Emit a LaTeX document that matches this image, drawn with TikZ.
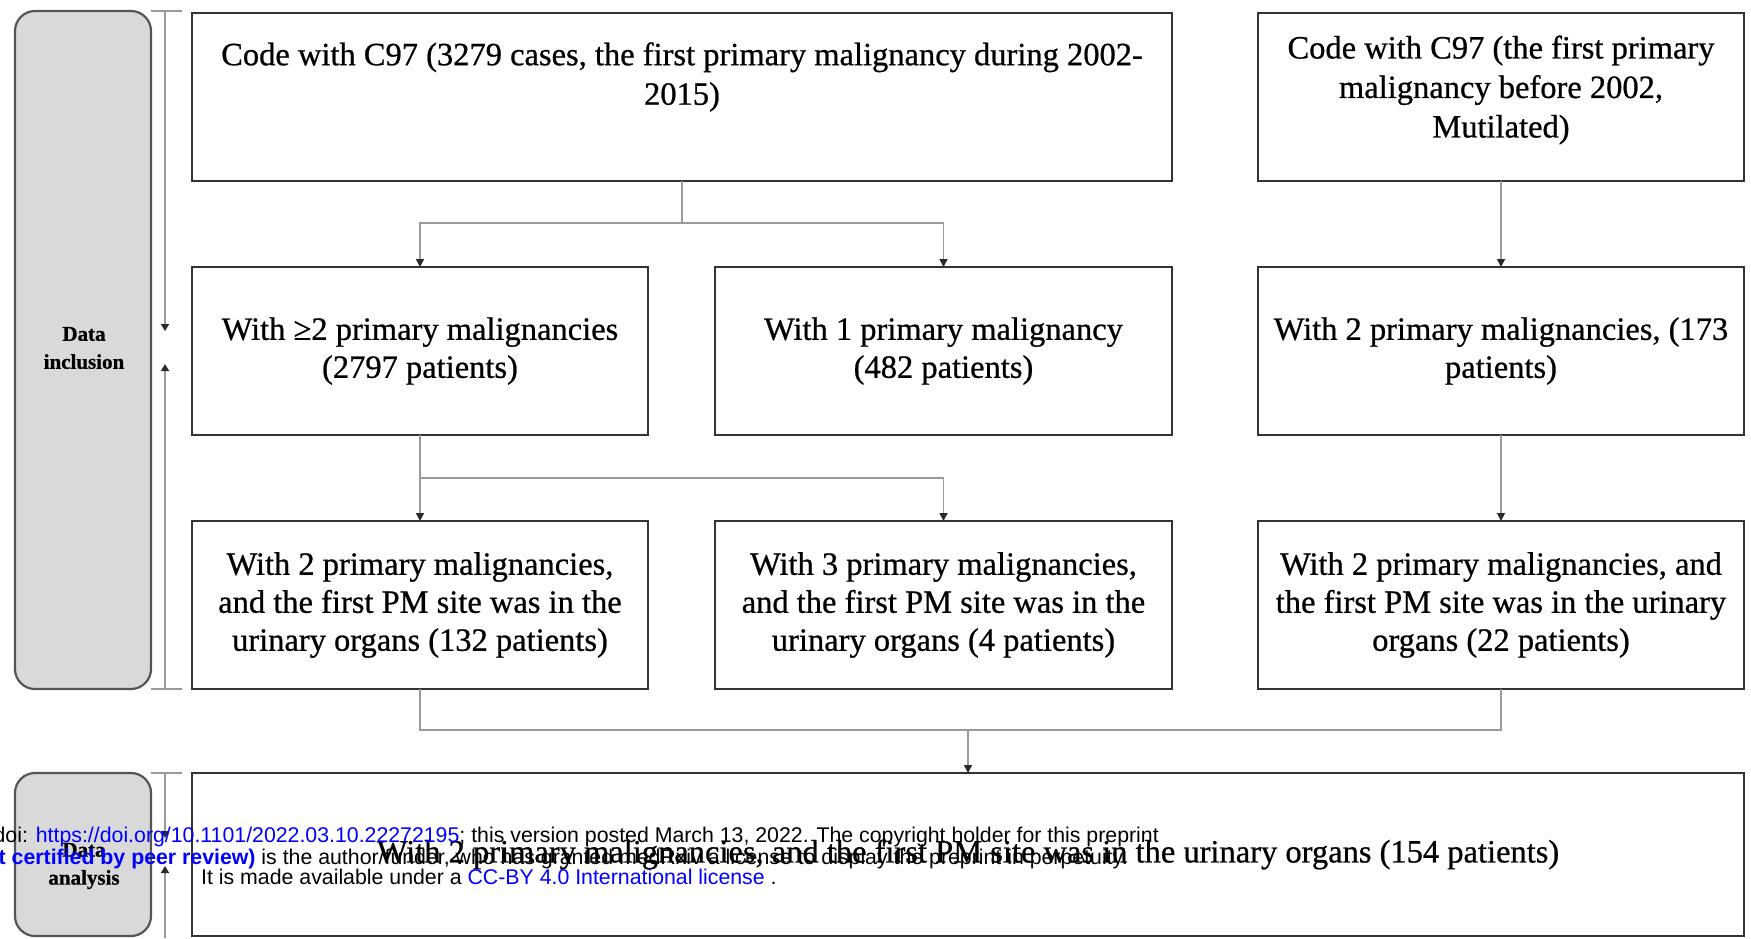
\documentclass[tikz,border=0pt]{standalone}
\usepackage{fontspec}
\setmainfont[FakeBold=0.7]{Liberation Serif}
\newfontfamily\wmfont{Liberation Sans}
\usetikzlibrary{arrows.meta}
\definecolor{boxline}{HTML}{333333}
\definecolor{conn}{HTML}{9A9A9A}
\definecolor{sidefill}{HTML}{D9D9D9}
\definecolor{sideline}{HTML}{555555}
\definecolor{wmblue}{HTML}{0000FF}
\definecolor{tipc}{HTML}{2A2A2A}
\begin{document}
\begin{tikzpicture}[x=1pt,y=-1pt,
  flowbox/.style={draw=boxline, line width=2.5pt, fill=white, anchor=north west,
    inner sep=0pt, outer sep=0pt, minimum height=168pt, align=center,
    font=\fontsize{32.5}{38}\selectfont},
  sidebox/.style={draw=sideline, line width=2.2pt, fill=sidefill, rounded corners=20pt,
    anchor=north west, inner sep=0pt, outer sep=0pt, minimum width=136pt},
  sidetext/.style={align=center, inner sep=0pt, font=\fontsize{21}{28}\selectfont\bfseries},
  boxtext/.style={align=center, inner sep=0pt, font=\fontsize{32.5}{39.5}\selectfont},
  link/.style={draw=conn, line width=1.6pt},
  linkarr/.style={link, -{Triangle[length=8pt,width=8pt,color=tipc]}},
  brk/.style={draw=conn, line width=1.8pt},
  brkarr/.style={brk, -{Triangle[length=7pt,width=8pt,color=tipc]}},
  wm/.style={inner sep=0pt, font=\wmfont\fontsize{21.3}{21.3}\selectfont}
]
\useasboundingbox (0,0) rectangle (1751,938);

% side panels
\node[sidebox, minimum height=678pt] (side1) at (15,11) {};
\node[sidetext] (side1t) at (84,348) {Data\\inclusion};
\node[sidebox, minimum height=163pt] (side2) at (15,773) {};
\node[sidetext] (side2t) at (84,866) {Data\\analysis};

% brackets
\coordinate (b1top) at (165,11);
\coordinate (b1bot) at (165,689);
\coordinate (b1da) at (165,331);
\coordinate (b1ua) at (165,364);
\draw[brk] (151,11) -- (182,11);
\draw[brk] (151,689) -- (182,689);
\draw[brkarr] (b1top) -- (b1da);
\draw[brkarr] (b1bot) -- (b1ua);
\coordinate (b2top) at (165,773);
\coordinate (b2bot) at (165,938);
\coordinate (b2da) at (165,838);
\coordinate (b2ua) at (165,866);
\draw[brk] (151,773) -- (182,773);
\draw[brkarr] (b2top) -- (b2da);
\draw[brkarr] (b2bot) -- (b2ua);

% boxes
\node[flowbox, minimum width=980pt] (r1a) at (192,13) {};
\node[boxtext] (r1at) at ([yshift=20pt]r1a.center) {Code with C97 (3279 cases, the first primary malignancy during 2002-\\2015)};
\node[flowbox, minimum width=486pt] (r1b) at (1258,13) {};
\node[boxtext] (r1bt) at ([yshift=7pt]r1b.center) {Code with C97 (the first primary\\malignancy before 2002,\\Mutilated)};

\node[flowbox, minimum width=456pt] (r2a) at (192,267) {With \char"2265 2 primary malignancies\\(2797 patients)};
\node[flowbox, minimum width=457pt] (r2b) at (715,267) {With 1 primary malignancy\\(482 patients)};
\node[flowbox, minimum width=486pt] (r2c) at (1258,267) {With 2 primary malignancies, (173\\patients)};

\node[flowbox, minimum width=456pt] (r3a) at (192,521) {With 2 primary malignancies,\\and the first PM site was in the\\urinary organs (132 patients)};
\node[flowbox, minimum width=457pt] (r3b) at (715,521) {With 3 primary malignancies,\\and the first PM site was in the\\urinary organs (4 patients)};
\node[flowbox, minimum width=486pt] (r3c) at (1258,521) {With 2 primary malignancies, and\\the first PM site was in the urinary\\organs (22 patients)};

\node[flowbox, minimum width=1552pt, minimum height=163pt] (bot) at (192,773) {With 2 primary malignancies, and the first PM site was in the urinary organs (154 patients)};

% connectors
\draw[link] (r1a.south) -- ++(0,42) coordinate (j1);
\draw[linkarr] (j1) -| (r2a.north);
\draw[linkarr] (j1) -| (r2b.north);
\draw[linkarr] (r1b.south) -- (r2c.north);
\draw[link] (r2a.south) -- ++(0,43) coordinate (j2);
\draw[linkarr] (j2) -- (r3a.north);
\draw[linkarr] (j2) -| (r3b.north);
\draw[linkarr] (r2c.south) -- (r3c.north);
\draw[link] (r3a.south) -- ++(0,41) coordinate (j3) -| (r3c.south);
\coordinate (j4) at (bot.north |- j3);
\draw[linkarr] (j4) -- (bot.north);

% watermark
\node[wm, anchor=base east] (wm1) at (1159,842) {doi: \textcolor{wmblue}{https://doi.org/10.1101/2022.03.10.22272195}; this version posted March 13, 2022. The copyright holder for this preprint};
\node[wm, anchor=base east] (wm2) at (1128,864) {\textcolor{wmblue}{\bfseries t certified by peer review)} is the author/funder, who has granted medRxiv a license to display the preprint in perpetuity.};
\node[wm, anchor=base west] (wm3) at (201,884) {It is made available under a \textcolor{wmblue}{CC-BY 4.0 International license} .};
\end{tikzpicture}
\end{document}
